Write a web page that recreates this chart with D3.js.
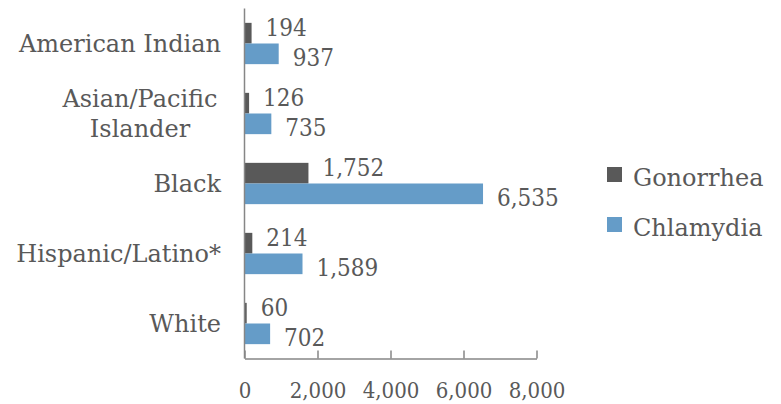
<!DOCTYPE html>
<html>
  <head>
    <meta charset="utf-8" />
    <title>Rates by race</title>
    <script src="https://d3js.org/d3.v7.min.js"></script>
    <style>
      body { margin: 0; background: white; }
      text { font-family: "DejaVu Serif", serif; fill: #595959; }
      .num { font-family: "DejaVu Serif Condensed", "DejaVu Serif", serif; font-stretch: condensed; }
    </style>
  </head>
  <body>
    <svg id="chart" width="781" height="404"></svg>
  </body>
  <script>
    // data
    var categories = ["American Indian", "Asian/Pacific Islander", "Black", "Hispanic/Latino*", "White"];
    var gonorrhea = [194, 126, 1752, 214, 60];
    var chlamydia = [937, 735, 6535, 1589, 702];
    var seriesNames = ["Gonorrhea", "Chlamydia"];
    var tickValues = [0, 2000, 4000, 6000, 8000];

    var colors = { Gonorrhea: "#595959", Chlamydia: "#659cc8" };

    var svg = d3.select("#chart");
    var plotLeft = 244.5, plotRight = 536.5, plotTop = 8.5, plotBottom = 358.5;

    var x = d3.scaleLinear().domain([0, 8000]).range([plotLeft, plotRight]);
    var y = d3.scaleBand().domain(categories).range([plotTop, plotBottom]).paddingInner(0.41).paddingOuter(0.205);
    var inner = d3.scaleBand().domain(seriesNames).range([0, y.bandwidth()]);

    var rows = categories.map(function(c, i){
      return { cat: c, Gonorrhea: gonorrhea[i], Chlamydia: chlamydia[i] };
    });

    // bars
    var groups = svg.selectAll(".grp").data(rows).enter().append("g")
      .attr("class", "grp")
      .attr("transform", function(d){ return "translate(0," + y(d.cat) + ")"; });

    groups.selectAll("rect")
      .data(function(d){ return seriesNames.map(function(s){ return { s: s, v: d[s] }; }); })
      .enter().append("rect")
      .attr("x", x(0))
      .attr("y", function(d){ return inner(d.s); })
      .attr("width", function(d){ return x(d.v) - x(0); })
      .attr("height", inner.bandwidth())
      .attr("fill", function(d){ return colors[d.s]; });

    // value labels
    groups.selectAll(".lbl")
      .data(function(d){ return seriesNames.map(function(s){ return { s: s, v: d[s] }; }); })
      .enter().append("text")
      .attr("class", "lbl num")
      .attr("x", function(d){ return x(d.v) + 14; })
      .attr("y", function(d){
        return inner(d.s) + inner.bandwidth() / 2 + (d.s == "Gonorrhea" ? -6 : 4);
      })
      .attr("dy", "0.35em")
      .attr("font-size", 24)
      .text(function(d){ return d3.format(",")(d.v); });

    // category labels
    var catLabels = svg.selectAll(".cat").data(categories).enter().append("text")
      .attr("class", "cat")
      .attr("font-size", 24)
      .attr("y", function(d){ return y(d) + y.bandwidth() / 2; });
    catLabels.each(function(d){
      var t = d3.select(this);
      if (d == "Asian/Pacific Islander") {
        t.attr("text-anchor", "middle");
        t.append("tspan").attr("x", 140).attr("dy", "-0.28em").text("Asian/Pacific");
        t.append("tspan").attr("x", 140).attr("dy", "1.25em").text("Islander");
      } else {
        t.attr("text-anchor", "end").append("tspan").attr("x", 221).attr("dy", "0.35em").text(d);
      }
    });

    // axes
    var xAxis = d3.axisBottom(x).tickValues(tickValues).tickFormat(d3.format(",")).tickSizeInner(-8).tickSizeOuter(0).tickPadding(24);
    var gx = svg.append("g").attr("transform", "translate(0," + plotBottom + ")").call(xAxis);
    gx.selectAll("line, path").attr("stroke", "#868686").attr("stroke-width", 1.5);
    gx.selectAll("text").attr("class", "num").attr("font-size", 22).attr("fill", "#595959").attr("font-family", null);

    svg.append("line")
      .attr("x1", plotLeft).attr("x2", plotLeft)
      .attr("y1", plotTop).attr("y2", plotBottom)
      .attr("stroke", "#868686").attr("stroke-width", 1.5);

    // legend
    var legend = svg.selectAll(".leg").data(seriesNames).enter().append("g")
      .attr("class", "leg")
      .attr("transform", function(d, i){ return "translate(607," + (167 + i * 50) + ")"; });
    legend.append("rect").attr("width", 15).attr("height", 15)
      .attr("fill", function(d){ return colors[d]; });
    legend.append("text").attr("x", 26).attr("y", 11).attr("dy", "0.35em")
      .attr("font-size", 24).text(function(d){ return d; });
  </script>
</html>
